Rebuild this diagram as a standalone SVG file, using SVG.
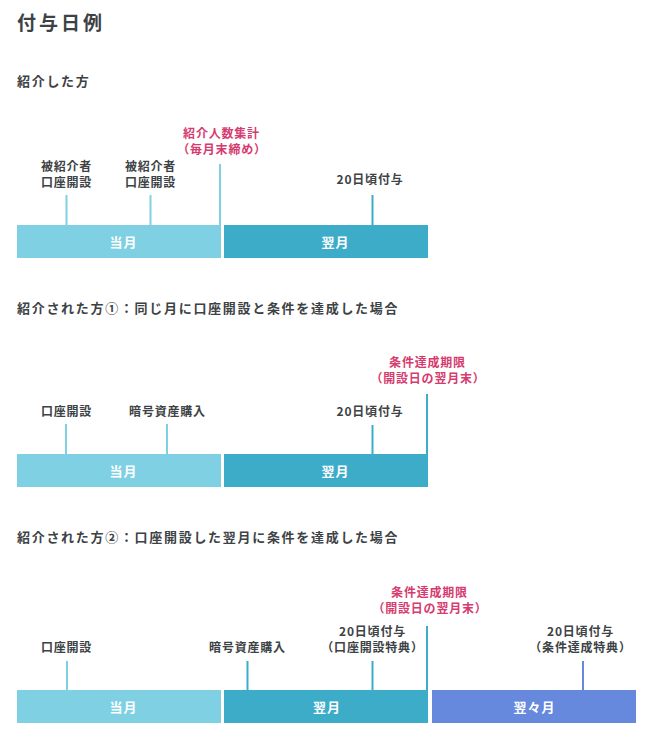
<svg xmlns="http://www.w3.org/2000/svg" width="656" height="744" viewBox="0 0 656 744">
<style>
  text { font-family: "Noto Sans CJK JP", "Noto Sans", sans-serif; font-weight: 700; }
  .title { font-size: 19px; fill: #3d4245; letter-spacing: 3px; }
  .head { font-size: 13px; fill: #3d4245; letter-spacing: 1.7px; }
  .lbl { font-size: 12px; fill: #3d4245; letter-spacing: 0.8px; text-anchor: middle; }
  .pink { font-size: 12px; fill: #d63b6f; letter-spacing: 0.8px; text-anchor: middle; }
  .bar-t { font-size: 13px; fill: #ffffff; letter-spacing: 1px; text-anchor: middle; }
  .m1 { fill: #7ed0e2; }
  .m2 { fill: #3dacc9; }
  .m3 { fill: #6688dd; }
  .t1 { stroke: #7ed0e2; stroke-width: 2; }
  .t2 { stroke: #3dacc9; stroke-width: 2; }
  .t3 { stroke: #6688dd; stroke-width: 2; }
</style>
<rect width="656" height="744" fill="#ffffff"/>
<text class="title" x="17" y="30">付与日例</text>

<!-- Section 1 -->
<g id="section1">
  <text class="head" x="17" y="86">紹介した方</text>
  <g id="s1-bar-current"><rect class="m1" x="17" y="225" width="204" height="33"/><text class="bar-t" x="123.5" y="246.5">当月</text></g>
  <g id="s1-bar-next"><rect class="m2" x="224" y="225" width="204" height="33"/><text class="bar-t" x="335.5" y="246.5">翌月</text></g>
  <g id="s1-open1"><text class="lbl"><tspan x="66.5" y="170.5">被紹介者</tspan><tspan x="66.5" y="186.5">口座開設</tspan></text></g>
  <g id="s1-open2"><text class="lbl"><tspan x="150.5" y="170.5">被紹介者</tspan><tspan x="150.5" y="186.5">口座開設</tspan></text></g>
  <g id="s1-count"><text class="pink"><tspan x="221.5" y="138">紹介人数集計</tspan><tspan x="222" y="154">（毎月末締め）</tspan></text></g>
  <g id="s1-pay"><text class="lbl" x="370" y="183.5">20日頃付与</text></g>
</g>

<!-- Section 2 -->
<g id="section2">
  <text class="head" x="17" y="313">紹介された方①：同じ月に口座開設と条件を達成した場合</text>
  <g id="s2-bar-current"><rect class="m1" x="17" y="454" width="204" height="33"/><text class="bar-t" x="123.5" y="476">当月</text></g>
  <g id="s2-bar-next"><rect class="m2" x="224" y="454" width="204" height="33"/><text class="bar-t" x="335.5" y="476">翌月</text></g>
  <g id="s2-open"><text class="lbl" x="66.5" y="415.5">口座開設</text></g>
  <g id="s2-buy"><text class="lbl" x="167.5" y="415.5">暗号資産購入</text></g>
  <g id="s2-pay"><text class="lbl" x="370" y="415.5">20日頃付与</text></g>
  <g id="s2-deadline"><text class="pink"><tspan x="427.5" y="367">条件達成期限</tspan><tspan x="428" y="383">（開設日の翌月末）</tspan></text></g>
</g>

<!-- Section 3 -->
<g id="section3">
  <text class="head" x="17" y="542">紹介された方②：口座開設した翌月に条件を達成した場合</text>
  <g id="s3-bar-current"><rect class="m1" x="17" y="690" width="204" height="33"/><text class="bar-t" x="123.5" y="711.5">当月</text></g>
  <g id="s3-bar-next"><rect class="m2" x="224" y="690" width="204" height="33"/><text class="bar-t" x="327" y="711.5">翌月</text></g>
  <g id="s3-bar-after"><rect class="m3" x="432" y="690" width="204" height="33"/><text class="bar-t" x="534.5" y="711.5">翌々月</text></g>
  <g id="s3-open"><text class="lbl" x="66.5" y="651.5">口座開設</text></g>
  <g id="s3-buy"><text class="lbl" x="247.5" y="651.5">暗号資産購入</text></g>
  <g id="s3-pay1"><text class="lbl"><tspan x="372.5" y="635.5">20日頃付与</tspan><tspan x="372.5" y="651.5">（口座開設特典）</tspan></text></g>
  <g id="s3-deadline"><text class="pink"><tspan x="429.5" y="596.5">条件達成期限</tspan><tspan x="430" y="612.5">（開設日の翌月末）</tspan></text></g>
  <g id="s3-pay2"><text class="lbl"><tspan x="580.5" y="635.5">20日頃付与</tspan><tspan x="580.5" y="651.5">（条件達成特典）</tspan></text></g>
</g>

<g id="connectors">
  <line class="t1" x1="66.5" y1="195" x2="66.5" y2="225"/>
  <line class="t1" x1="150.5" y1="195" x2="150.5" y2="225"/>
  <line class="t1" x1="220" y1="164" x2="220" y2="258"/>
  <line class="t2" x1="372.5" y1="195" x2="372.5" y2="225"/>

  <line class="t1" x1="66" y1="424" x2="66" y2="454"/>
  <line class="t1" x1="167" y1="424" x2="167" y2="454"/>
  <line class="t2" x1="372.5" y1="425" x2="372.5" y2="454"/>
  <line class="t2" x1="427" y1="394" x2="427" y2="487"/>

  <line class="t1" x1="67" y1="661" x2="67" y2="690"/>
  <line class="t2" x1="247.5" y1="661" x2="247.5" y2="690"/>
  <line class="t2" x1="372.5" y1="661" x2="372.5" y2="690"/>
  <line class="t2" x1="427" y1="626" x2="427" y2="723"/>
  <line class="t3" x1="583" y1="661" x2="583" y2="690"/>
</g>
</svg>
